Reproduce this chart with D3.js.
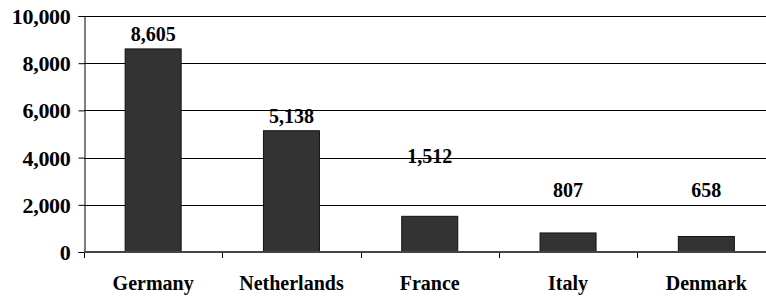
<!DOCTYPE html>
<html>
<head>
<meta charset="utf-8">
<script src="https://cdn.jsdelivr.net/npm/d3@7.9.0/dist/d3.min.js"></script>
<style>
  html, body { margin: 0; padding: 0; background: #fff; }
  svg { display: block; font-family: "Liberation Serif", "Times New Roman", serif; font-weight: bold; }
</style>
</head>
<body>
<svg id="chart" width="766" height="297"></svg>
<script>
// data
const countries = ['Germany', 'Netherlands', 'France', 'Italy', 'Denmark'];
const values = [8605, 5138, 1512, 807, 658];
// where each value label sits, in axis units (labels were moved by hand in the original)
const labelAt = [8940, 5470, 3770, 2330, 2330];
const yTicks = [0, 2000, 4000, 6000, 8000, 10000];

const svg = d3.select('#chart');
const plotLeft = 84, plotRight = 775.5, plotTop = 16, plotBottom = 252;

const x = d3.scaleBand()
  .domain(countries)
  .range([plotLeft, plotRight])
  .paddingInner(0.595)
  .paddingOuter(0.595 / 2);

const y = d3.scaleLinear().domain([0, 10000]).range([plotBottom, plotTop]);

// gridlines (the top one doubles as the plot border)
svg.append('g')
  .selectAll('line')
  .data(yTicks.filter(d => d > 0))
  .join('line')
  .attr('x1', plotLeft).attr('x2', plotRight)
  .attr('y1', d => Math.round(y(d)) + 0.5)
  .attr('y2', d => Math.round(y(d)) + 0.5)
  .attr('stroke', '#000')
  .attr('stroke-width', 1);

// bars
svg.append('g')
  .selectAll('rect')
  .data(values)
  .join('rect')
  .attr('x', (d, i) => x(countries[i]))
  .attr('width', x.bandwidth())
  .attr('y', d => y(d))
  .attr('height', d => y(0) - y(d))
  .attr('fill', '#333333')
  .attr('stroke', '#111')
  .attr('stroke-width', 1);

// y axis
const yAxis = svg.append('g')
  .attr('transform', `translate(${plotLeft + 0.5},0)`)
  .call(d3.axisLeft(y).tickValues(yTicks).tickSize(6).tickPadding(8).tickFormat(d3.format(',')));
yAxis.attr('font-family', null).attr('font-size', null);
yAxis.select('.domain').attr('stroke', '#000');
yAxis.selectAll('.tick line').attr('stroke', '#000');
yAxis.selectAll('text')
  .style('font-size', '22px')
  .style('letter-spacing', '-0.3px')
  .attr('dy', '0.34em')
  .attr('fill', '#000');

// x axis: ticks between categories, labels under the bars
const step = x.step();
const boundaries = countries.map(c => x(c) - step * x.paddingInner() / 2);
boundaries.push(plotRight);

svg.append('g')
  .selectAll('line')
  .data(boundaries)
  .join('line')
  .attr('x1', d => Math.round(d) + 0.5).attr('x2', d => Math.round(d) + 0.5)
  .attr('y1', plotBottom).attr('y2', plotBottom + 6)
  .attr('stroke', '#000');

svg.append('line')
  .attr('x1', plotLeft).attr('x2', plotRight)
  .attr('y1', plotBottom).attr('y2', plotBottom)
  .attr('stroke', '#444')
  .attr('stroke-width', 2);

svg.append('g')
  .selectAll('text')
  .data(countries)
  .join('text')
  .attr('x', d => x(d) + x.bandwidth() / 2)
  .attr('y', 290)
  .attr('text-anchor', 'middle')
  .style('font-size', '20px')
  .text(d => d);

// value labels
svg.append('g')
  .selectAll('text')
  .data(values)
  .join('text')
  .attr('x', (d, i) => x(countries[i]) + x.bandwidth() / 2)
  .attr('y', (d, i) => y(labelAt[i]))
  .attr('text-anchor', 'middle')
  .style('font-size', '20px')
  .text(d => d3.format(',')(d));
</script>
</body>
</html>
